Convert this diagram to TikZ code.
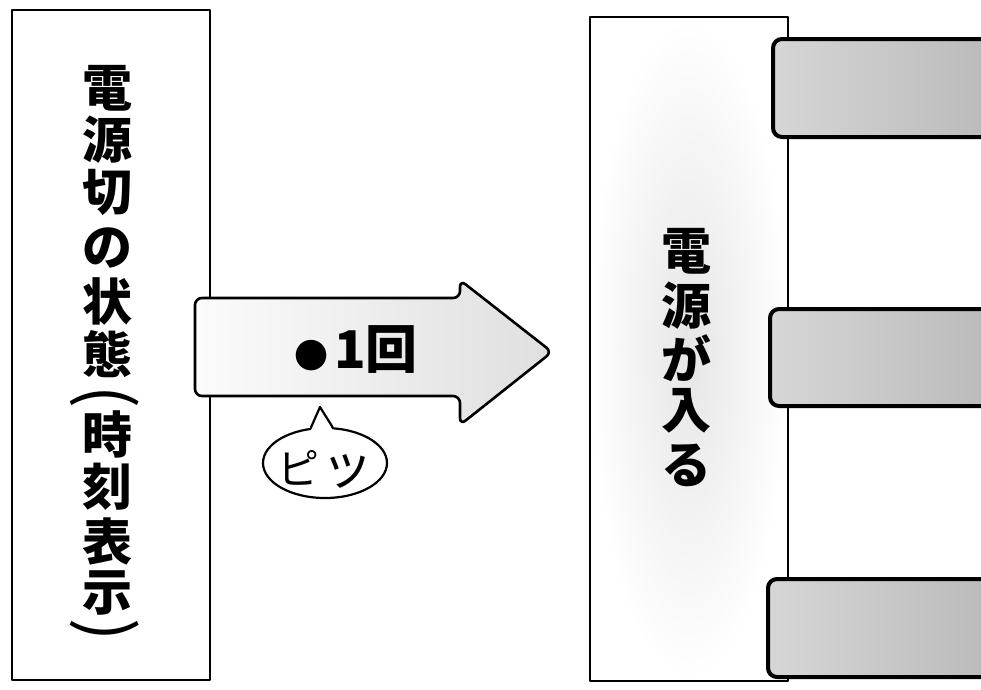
\documentclass[tikz,border=0pt]{standalone}
\usepackage{fontspec}
\usepackage{graphicx}
\newfontfamily\cjk{Noto Sans CJK JP}
\usetikzlibrary{shapes.geometric,calc}
\tikzset{
  boxline/.style={line width=2.6pt, line join=round},
  tabbox/.style={line width=4pt, rounded corners=9pt, left color=gray!32, right color=gray!55},
  vch/.style={inner sep=0pt, font=\fontsize{50}{50}\selectfont\cjk\bfseries},
  paren/.style={inner sep=0pt, font=\fontsize{68}{68}\selectfont\cjk},
}
\begin{document}
\begin{tikzpicture}[x=1pt,y=-1pt]
\useasboundingbox (0,0) rectangle (981,689);
% left box
\draw[boxline] (12,10) rectangle (210,680);
\node[vch] (l1) at (107,88) {電};
\node[vch] (l2) at (107,140) {源};
\node[vch] (l3) at (107,192) {切};
\node[vch] (l4) at (107,248) {の};
\node[vch] (l5) at (107,301) {状};
\node[vch] (l6) at (107,354) {態};
\node[paren] (l7) at (105,397) {\rotatebox{-90}{(}};
\node[vch] (l8) at (107,434) {時};
\node[vch] (l9) at (107,487) {刻};
\node[vch] (l10) at (107,541) {表};
\node[vch] (l11) at (107,593) {示};
\node[paren] (l12) at (105,630) {\rotatebox{-90}{)}};
% right box
\shade[inner color=gray!20, outer color=white] (590,17) rectangle (788,681);
\draw[boxline] (590,17) rectangle (788,681);
\node[vch] (r1) at (686,251) {電};
\node[vch] (r2) at (686,306) {源};
\node[vch] (r3) at (686,358) {が};
\node[vch] (r4) at (686,411) {入};
\node[vch] (r5) at (686,465) {る};
% tabs
\draw[tabbox] (1000,39) -- (773,39) -- (773,137) -- (1000,137);
\draw[tabbox] (1000,309) -- (770,309) -- (770,406) -- (1000,406);
\draw[tabbox] (1000,579) -- (768,579) -- (768,677) -- (1000,677);
% arrow
\draw[boxline, rounded corners=7pt, left color=gray!3, right color=gray!25]
  (460,298) -- (195,298) -- (195,396) -- (460,396) -- (460,425) -- (552,352) -- (460,280) -- cycle;
\node[inner sep=0pt, font=\fontsize{52}{52}\selectfont\cjk\bfseries] (count) at (356,350)
  {{\fontsize{34}{34}\selectfont ●}\hspace{6pt}1回};
% speech bubble
\node[ellipse, draw, line width=2.2pt, minimum width=124pt, minimum height=70pt, fill=white, inner sep=0pt] (bubble) at (325,463) {};
\coordinate (tip) at (320,407);
\fill[white] ($(bubble.112)+(0,3)$) -- (tip) -- ($(bubble.78)+(0,3)$) -- cycle;
\draw[line width=2.2pt, line join=round] (bubble.112) -- (tip) -- (bubble.78);
\node[font=\fontsize{42}{42}\selectfont\cjk, inner sep=0pt] (beep) at (325,469) {ピ\hspace{2pt}{\fontsize{52}{52}\selectfont ッ}};
\end{tikzpicture}
\end{document}
